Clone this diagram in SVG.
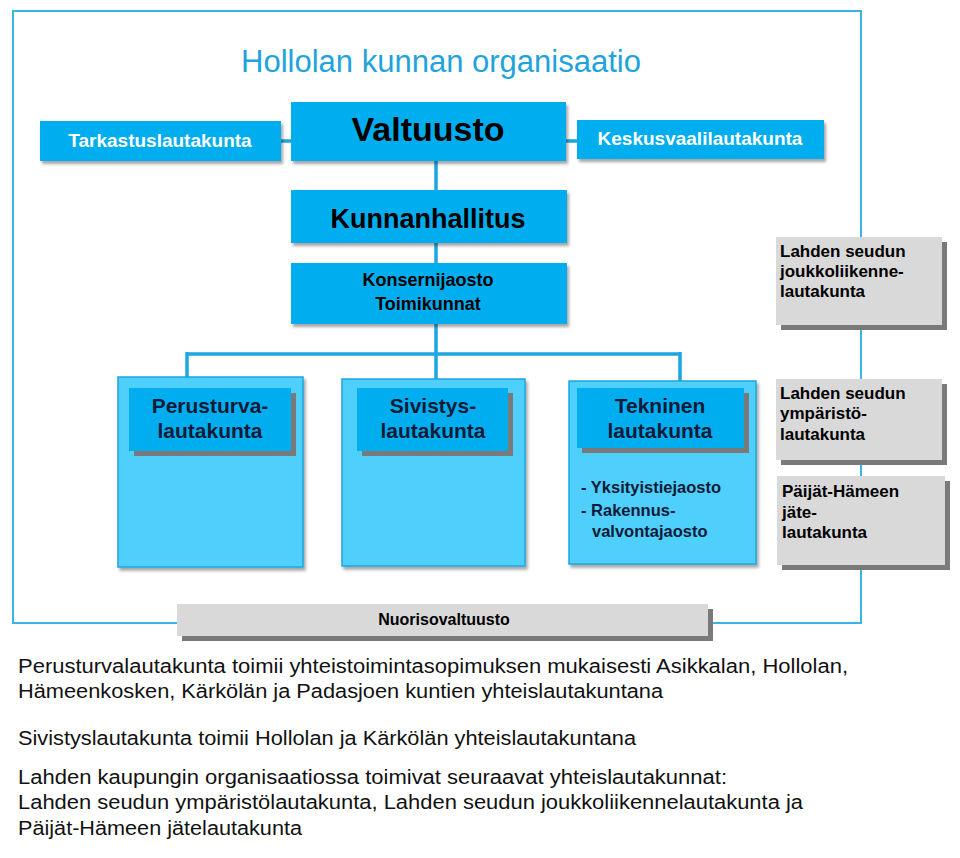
<svg xmlns="http://www.w3.org/2000/svg" width="960" height="858" viewBox="0 0 960 858">
<defs>
<filter id="sh" x="-10%" y="-10%" width="130%" height="140%">
<feDropShadow dx="2" dy="3" stdDeviation="1.5" flood-color="#000" flood-opacity="0.35"/>
</filter>
<style>
.frame{fill:none;stroke:#3ab4e2;stroke-width:2}
.title{font-family:"Liberation Sans",Arial,sans-serif;font-size:31px;fill:#1ea3dc}
.main{fill:#00aeef;filter:url(#sh)}
.outer{fill:#4fcffb;stroke:#1ea6e0;stroke-width:1.5;filter:url(#sh)}
.hdr{fill:#00aeef}
.hsh{fill:#7a7a7a}
.gray{fill:#d9d9d9}
.conn{fill:none;stroke:#1ea6e0;stroke-width:3.5}
.b{font-family:"Liberation Sans",Arial,sans-serif;font-weight:bold}
.w{fill:#fff;font-size:19px}
.k{fill:#000}
.n{fill:#0d1a38}
.body{font-family:"Liberation Sans",Arial,sans-serif;font-size:20px;fill:#111}
</style>
</defs>
<rect width="960" height="858" fill="#fff"/>
<rect class="frame" x="13" y="11" width="848" height="612"/>
<text class="title" x="441" y="72" text-anchor="middle">Hollolan kunnan organisaatio</text>

<g id="connectors">
<path class="conn" d="M281 141H291M566 141H577"/>
<path class="conn" d="M436 161V190M436 243V263M436 324V354M187 354H680M187 352V377M436 354V379M680 352V381"/>
</g>

<g id="tarkastus">
<rect class="main" x="40" y="121" width="241" height="40"/>
<text class="b w" x="160" y="147" text-anchor="middle">Tarkastuslautakunta</text>
</g>
<g id="valtuusto">
<rect class="main" x="291" y="102" width="275" height="59"/>
<text class="b k" x="428" y="141" text-anchor="middle" font-size="34">Valtuusto</text>
</g>
<g id="keskusvaali">
<rect class="main" x="577" y="120" width="247" height="39"/>
<text class="b w" x="700" y="145" text-anchor="middle">Keskusvaalilautakunta</text>
</g>
<g id="kunnanhallitus">
<rect class="main" x="291" y="190" width="276" height="53"/>
<text class="b k" x="428" y="228" text-anchor="middle" font-size="27">Kunnanhallitus</text>
</g>
<g id="konserni">
<rect class="main" x="291" y="263" width="276" height="61"/>
<text class="b k" x="428" y="286" text-anchor="middle" font-size="18">Konsernijaosto</text>
<text class="b k" x="428" y="310" text-anchor="middle" font-size="18">Toimikunnat</text>
</g>

<g id="perusturva">
<rect class="outer" x="118" y="377" width="185" height="190"/>
<rect class="hsh" x="134" y="393" width="162" height="63"/>
<rect class="hdr" x="129" y="388" width="162" height="63"/>
<text class="b n" x="210" y="413" text-anchor="middle" font-size="21">Perusturva-</text>
<text class="b n" x="210" y="438" text-anchor="middle" font-size="21">lautakunta</text>
</g>
<g id="sivistys">
<rect class="outer" x="342" y="379" width="183" height="187"/>
<rect class="hsh" x="362" y="393" width="151" height="63"/>
<rect class="hdr" x="357" y="388" width="151" height="63"/>
<text class="b n" x="433" y="413" text-anchor="middle" font-size="21">Sivistys-</text>
<text class="b n" x="433" y="438" text-anchor="middle" font-size="21">lautakunta</text>
</g>
<g id="tekninen">
<rect class="outer" x="569" y="381" width="187" height="183"/>
<rect class="hsh" x="582" y="393" width="167" height="60"/>
<rect class="hdr" x="577" y="388" width="167" height="60"/>
<text class="b n" x="660" y="413" text-anchor="middle" font-size="21">Tekninen</text>
<text class="b n" x="660" y="438" text-anchor="middle" font-size="21">lautakunta</text>
<text class="b n" x="581" y="493" font-size="16.5">- Yksityistiejaosto</text>
<text class="b n" x="581" y="516" font-size="16.5">- Rakennus-</text>
<text class="b n" x="592" y="537" font-size="16.5">valvontajaosto</text>
</g>

<g id="joukkoliikenne">
<rect class="hsh" x="781" y="242" width="166" height="88"/>
<rect class="gray" x="776" y="237" width="166" height="88"/>
<text class="b k" x="780" y="257" font-size="17">Lahden seudun</text>
<text class="b k" x="780" y="277" font-size="17">joukkoliikenne-</text>
<text class="b k" x="780" y="297" font-size="17">lautakunta</text>
</g>
<g id="ymparisto">
<rect class="hsh" x="781" y="384" width="166" height="81"/>
<rect class="gray" x="776" y="379" width="166" height="81"/>
<text class="b k" x="780" y="399" font-size="17">Lahden seudun</text>
<text class="b k" x="780" y="419" font-size="17">ympäristö-</text>
<text class="b k" x="780" y="440" font-size="17">lautakunta</text>
</g>
<g id="jate">
<rect class="hsh" x="782" y="481" width="168" height="89"/>
<rect class="gray" x="777" y="476" width="168" height="89"/>
<text class="b k" x="782" y="497" font-size="17">Päijät-Hämeen</text>
<text class="b k" x="782" y="518" font-size="17">jäte-</text>
<text class="b k" x="782" y="538" font-size="17">lautakunta</text>
</g>
<g id="nuorisovaltuusto">
<rect class="hsh" x="182" y="609" width="531" height="32"/>
<rect class="gray" x="177" y="604" width="531" height="32"/>
<text class="b k" x="444" y="625" text-anchor="middle" font-size="16">Nuorisovaltuusto</text>
</g>

<g id="notes">
<text class="body" x="18" y="673" textLength="830" lengthAdjust="spacingAndGlyphs">Perusturvalautakunta toimii yhteistoimintasopimuksen mukaisesti Asikkalan, Hollolan,</text>
<text class="body" x="18" y="698" textLength="645" lengthAdjust="spacingAndGlyphs">Hämeenkosken, Kärkölän ja Padasjoen kuntien yhteislautakuntana</text>
<text class="body" x="18" y="745" textLength="618" lengthAdjust="spacingAndGlyphs">Sivistyslautakunta toimii Hollolan ja Kärkölän yhteislautakuntana</text>
<text class="body" x="18" y="784" textLength="709" lengthAdjust="spacingAndGlyphs">Lahden kaupungin organisaatiossa toimivat seuraavat yhteislautakunnat:</text>
<text class="body" x="18" y="809" textLength="785" lengthAdjust="spacingAndGlyphs">Lahden seudun ympäristölautakunta, Lahden seudun joukkoliikennelautakunta ja</text>
<text class="body" x="18" y="835" textLength="284" lengthAdjust="spacingAndGlyphs">Päijät-Hämeen jätelautakunta</text>
</g>
</svg>
